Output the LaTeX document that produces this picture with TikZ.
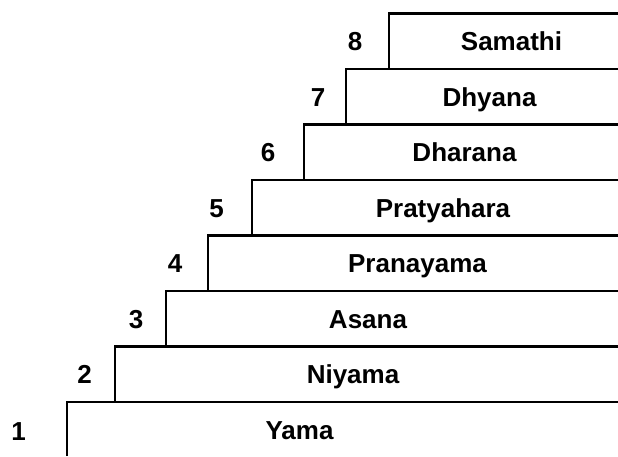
\documentclass[tikz,border=0pt]{standalone}
\usepackage{fontspec}
\newfontfamily\labfont{Liberation Sans}[BoldFont={Liberation Sans Bold}]
\begin{document}
\begin{tikzpicture}[x=1pt,y=-1pt,
  edge/.style={draw, line width=2.6pt, line join=miter},
  lab/.style={font=\labfont\bfseries\fontsize{26}{26}\selectfont, anchor=base, inner sep=0pt}]
\useasboundingbox (0,0) rectangle (618,456);
% step coordinates: left x and top y of each box
\coordinate (c1) at (67,402);
\coordinate (c2) at (115,346.5);
\coordinate (c3) at (166,291);
\coordinate (c4) at (208,235.5);
\coordinate (c5) at (252,180);
\coordinate (c6) at (304,124.5);
\coordinate (c7) at (346,69);
\coordinate (c8) at (389,13.5);
\coordinate (c0) at (0,456);
\coordinate (r) at (618,0);
% boxes: left edge from the box below up, then top edge to the right
\draw[edge] (c1 |- c0) |- (r |- c1);
\draw[edge] (c2 |- c1) |- (r |- c2);
\draw[edge] (c3 |- c2) |- (r |- c3);
\draw[edge] (c4 |- c3) |- (r |- c4);
\draw[edge] (c5 |- c4) |- (r |- c5);
\draw[edge] (c6 |- c5) |- (r |- c6);
\draw[edge] (c7 |- c6) |- (r |- c7);
\draw[edge] (c8 |- c7) |- (r |- c8);
% labels
\node[lab] (t1) at (299.5,439) {Yama};
\node[lab] (t2) at (353,383.5) {Niyama};
\node[lab] (t3) at (368,328) {Asana};
\node[lab] (t4) at (417.5,272.5) {Pranayama};
\node[lab] (t5) at (443,217) {Pratyahara};
\node[lab] (t6) at (464.5,161.5) {Dharana};
\node[lab] (t7) at (489.5,106) {Dhyana};
\node[lab] (t8) at (511.5,50.5) {Samathi};
% numbers
\node[lab] (n1) at (18.5,440) {1};
\node[lab] (n2) at (84.5,383.5) {2};
\node[lab] (n3) at (136,328) {3};
\node[lab] (n4) at (175,272.5) {4};
\node[lab] (n5) at (216.5,217) {5};
\node[lab] (n6) at (268,161.5) {6};
\node[lab] (n7) at (318,106) {7};
\node[lab] (n8) at (355,50.5) {8};
\end{tikzpicture}
\end{document}
